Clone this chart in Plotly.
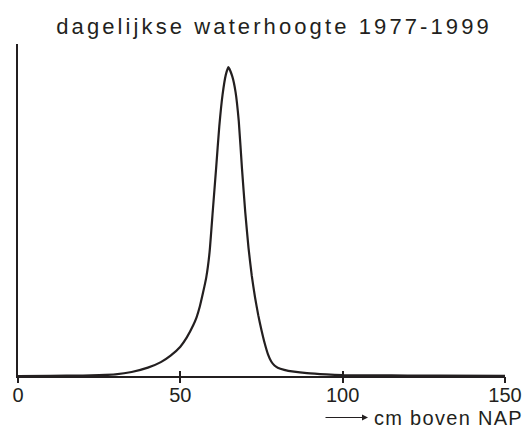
import plotly.graph_objects as go

# water level (cm boven NAP) and relative frequency (arbitrary units, peak = 1)
waterhoogte = [0, 10, 20, 25, 30, 35, 40, 44, 47, 50, 52, 54, 55, 56, 57, 58, 59, 60,
               61, 62, 63, 64, 64.8, 66, 67, 68, 69, 70, 71, 72, 73, 74, 75, 76, 77, 78,
               79, 80, 82, 85, 89, 95, 100, 110, 120, 130, 150]
frequentie = [0.0, 0.0005, 0.0015, 0.003, 0.0055, 0.013, 0.027, 0.045, 0.066, 0.095,
              0.125, 0.165, 0.19, 0.225, 0.27, 0.32, 0.40, 0.535, 0.67, 0.808, 0.91,
              0.975, 1.0, 0.97, 0.92, 0.825, 0.67, 0.53, 0.415, 0.325, 0.255, 0.197, 0.148,
              0.105, 0.07, 0.047, 0.034, 0.027, 0.02, 0.014, 0.009, 0.005, 0.003, 0.002,
              0.0015, 0.001, 0.0005]
x_ticks = [0, 50, 100, 150]
x_tick_labels = ["0", "50", "100", "150"]

INK = "#231f20"
FONT = "Liberation Sans, Arial, sans-serif"

fig = go.Figure()
fig.add_trace(go.Scatter(x=waterhoogte, y=frequentie, mode="lines",
                         line=dict(color=INK, width=2.2, shape="spline", smoothing=0.5),
                         hoverinfo="skip", showlegend=False))
fig.add_trace(go.Scatter(x=[0, 150], y=[0, 0], xaxis="x2", mode="lines",
                         line=dict(width=0), hoverinfo="skip", showlegend=False))

fig.update_layout(
    width=525, height=429,
    margin=dict(l=18, r=20, t=44, b=53),
    paper_bgcolor="white", plot_bgcolor="white",
    font=dict(family=FONT, color=INK),
    title=dict(text='<span style="letter-spacing:3.1px">dagelijkse waterhoogte 1977-1999</span>',
               x=0.522, xanchor="center", xref="container",
               y=0.939, yanchor="middle", yref="container",
               font=dict(size=22, family=FONT, color=INK)),
    xaxis=dict(range=[0, 150], tickvals=x_ticks, ticktext=x_tick_labels, automargin=False,
               showgrid=False, zeroline=False, showline=True, linecolor=INK,
               linewidth=2, ticks="inside", ticklen=5, tickwidth=1.5, tickcolor=INK,
               tickfont=dict(size=20, family=FONT, color=INK)),
    xaxis2=dict(range=[0, 150], overlaying="x", anchor="y", side="bottom", automargin=False,
                tickvals=x_ticks, showticklabels=False, showgrid=False, zeroline=False,
                showline=False, ticks="outside", ticklen=6, tickwidth=1.5, tickcolor=INK),
    yaxis=dict(range=[0, 1.075], showgrid=False, zeroline=False, showline=True,
               automargin=False, linecolor=INK, linewidth=1.5, showticklabels=False,
               ticks=""),
)

fig.add_annotation(xref="paper", yref="paper", x=0.7187, y=-0.125, ax=-44, ay=0,
                   text="", showarrow=True, arrowhead=2, arrowsize=1, arrowwidth=1.2,
                   arrowcolor=INK)
fig.add_annotation(xref="paper", yref="paper", x=0.727, y=-0.128, xanchor="left",
                   yanchor="middle",
                   text='<span style="letter-spacing:1.3px">cm boven NAP</span>',
                   showarrow=False, font=dict(size=20, family=FONT, color=INK))

fig.write_html("out.html", config={"displayModeBar": False},
               post_script="document.body.style.margin='0';document.body.style.overflow='hidden';")
